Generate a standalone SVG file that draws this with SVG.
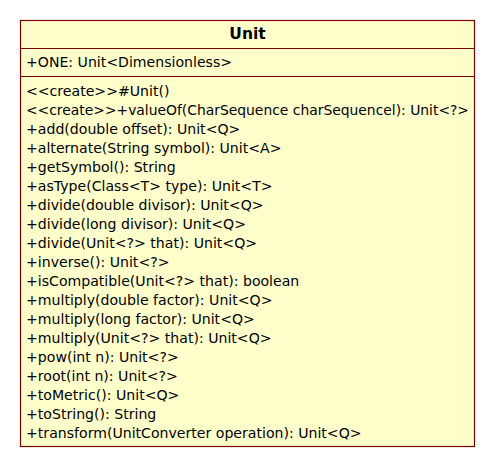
<svg xmlns="http://www.w3.org/2000/svg" width="495" height="468" viewBox="0 0 495 468">
<style>
.box{fill:#FFFFCC;stroke:#800000;stroke-width:1.2}
.sep{stroke:#800000;stroke-width:1}
text{font-family:"DejaVu Sans","Liberation Sans",sans-serif;font-size:14.1px;fill:#000}
.title{font-weight:bold;font-size:15.5px;text-anchor:middle}
</style>
<rect width="495" height="468" fill="#ffffff"/>
<g id="Unit">
<rect class="box" x="20.5" y="20.5" width="454" height="426"/>
<line class="sep" x1="20.5" y1="48.5" x2="474.5" y2="48.5"/>
<line class="sep" x1="20.5" y1="76.5" x2="474.5" y2="76.5"/>
<text class="title" x="247.5" y="39">Unit</text>
<text x="26" y="67">+ONE: Unit&lt;Dimensionless&gt;</text>
<text x="26" y="96">&lt;&lt;create&gt;&gt;#Unit()</text>
<text x="26" y="115" textLength="443" lengthAdjust="spacingAndGlyphs">&lt;&lt;create&gt;&gt;+valueOf(CharSequence charSequencel): Unit&lt;?&gt;</text>
<text x="26" y="134">+add(double offset): Unit&lt;Q&gt;</text>
<text x="26" y="153">+alternate(String symbol): Unit&lt;A&gt;</text>
<text x="26" y="172">+getSymbol(): String</text>
<text x="26" y="191">+asType(Class&lt;T&gt; type): Unit&lt;T&gt;</text>
<text x="26" y="210">+divide(double divisor): Unit&lt;Q&gt;</text>
<text x="26" y="229">+divide(long divisor): Unit&lt;Q&gt;</text>
<text x="26" y="248">+divide(Unit&lt;?&gt; that): Unit&lt;Q&gt;</text>
<text x="26" y="267">+inverse(): Unit&lt;?&gt;</text>
<text x="26" y="286">+isCompatible(Unit&lt;?&gt; that): boolean</text>
<text x="26" y="305">+multiply(double factor): Unit&lt;Q&gt;</text>
<text x="26" y="324">+multiply(long factor): Unit&lt;Q&gt;</text>
<text x="26" y="343">+multiply(Unit&lt;?&gt; that): Unit&lt;Q&gt;</text>
<text x="26" y="362">+pow(int n): Unit&lt;?&gt;</text>
<text x="26" y="381">+root(int n): Unit&lt;?&gt;</text>
<text x="26" y="400">+toMetric(): Unit&lt;Q&gt;</text>
<text x="26" y="419">+toString(): String</text>
<text x="26" y="438">+transform(UnitConverter operation): Unit&lt;Q&gt;</text>
</g>
</svg>
